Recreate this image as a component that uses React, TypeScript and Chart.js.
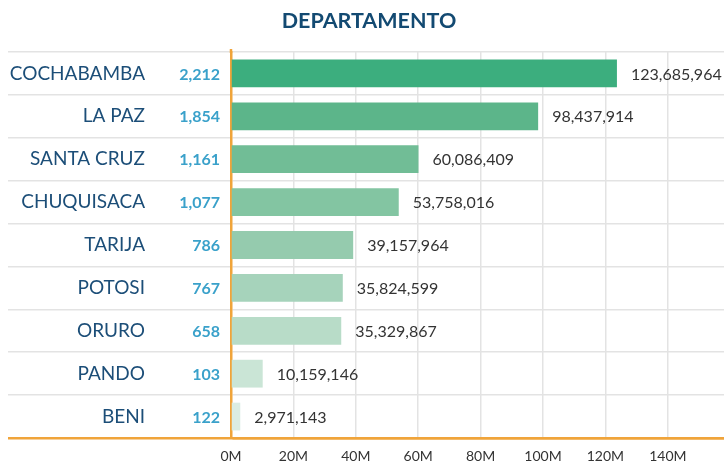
import React, { useEffect, useRef } from "react";
import { Chart, registerables } from "chart.js";

Chart.register(...registerables);

const categories = ["COCHABAMBA", "LA PAZ", "SANTA CRUZ", "CHUQUISACA", "TARIJA", "POTOSI", "ORURO", "PANDO", "BENI"];
const counts = [2212, 1854, 1161, 1077, 786, 767, 658, 103, 122];
const amounts = [123685964, 98437914, 60086409, 53758016, 39157964, 35824599, 35329867, 10159146, 2971143];
const barColors = ["#3cae7e", "#5cb58a", "#71bd96", "#83c5a2", "#95cbae", "#a6d3bb", "#b8dcc8", "#cae5d6", "#dbede3"];
const tickValues = [0, 20000000, 40000000, 60000000, 80000000, 100000000, 120000000, 140000000];
const tickLabels = ["0M", "20M", "40M", "60M", "80M", "100M", "120M", "140M"];
const axisMax = 158000000;
const titleText = "DEPARTAMENTO";

const ORANGE = "#f0a43a";
const GRID = "#e3e3e3";
const FONT = "Lato, 'Open Sans', sans-serif";

const labelsPlugin = {
  id: "sideLabels",
  afterDatasetsDraw(chart: any) {
    const { ctx, scales, chartArea } = chart;
    const x = scales.x;
    const y = scales.y;
    ctx.save();
    // small extension of the zero line above the plot
    ctx.strokeStyle = ORANGE;
    ctx.lineWidth = 2.5;
    ctx.beginPath();
    const zx = x.getPixelForValue(0);
    ctx.moveTo(zx, chartArea.top - 3);
    ctx.lineTo(zx, chartArea.top + 1);
    ctx.stroke();

    ctx.textBaseline = "middle";
    ctx.textAlign = "center";
    ctx.font = `bold 21.5px ${FONT}`;
    ctx.fillStyle = "#134a72";
    ctx.fillText(titleText, chart.width / 2 + 7, 21);
    categories.forEach((c, i) => {
      const py = y.getPixelForValue(i);
      ctx.textAlign = "right";
      ctx.font = `19px ${FONT}`;
      ctx.fillStyle = "#1c4e78";
      ctx.fillText(c, chartArea.left - 86, py);
      ctx.font = `bold 16px ${FONT}`;
      ctx.fillStyle = "#3aa1ca";
      ctx.fillText(counts[i].toLocaleString("en-US"), chartArea.left - 11, py + 1);
      ctx.textAlign = "left";
      ctx.font = `16px ${FONT}`;
      ctx.fillStyle = "#333333";
      ctx.fillText(amounts[i].toLocaleString("en-US"), x.getPixelForValue(amounts[i]) + 14, py + 1);
    });
    ctx.restore();
  },
};

export default function App() {
  const ref = useRef<HTMLCanvasElement>(null);
  useEffect(() => {
    document.body.style.margin = "0";
    const chart = new Chart(ref.current as HTMLCanvasElement, {
      type: "bar",
      data: {
        labels: categories,
        datasets: [
          {
            data: amounts,
            backgroundColor: barColors,
            barPercentage: 0.72,
            categoryPercentage: 0.9,
          },
        ],
      },
      options: {
        indexAxis: "y",
        animation: false,
        responsive: false,
        layout: { padding: { top: 52, left: 0, right: 0, bottom: 0 } },
        plugins: {
          legend: { display: false },
          tooltip: { enabled: false },
          title: { display: false },
        },
        scales: {
          x: {
            type: "linear",
            min: 0,
            max: axisMax,
            afterBuildTicks: (s: any) => {
              s.ticks = tickValues.map((v) => ({ value: v }));
            },
            afterFit: (s: any) => {
              s.height = 27;
            },
            ticks: {
              color: "#333333",
              font: { family: FONT, size: 14 },
              padding: 10,
              maxRotation: 0,
              autoSkip: false,
              callback: (_v: any, i: number) => tickLabels[i],
            },
            grid: {
              drawTicks: false,
              color: (c: any) => (c.tick && c.tick.value === 0 ? "rgba(0,0,0,0)" : GRID),
              lineWidth: 1.5,
            },
            border: { display: true, color: ORANGE, width: 2.5 },
          },
          y: {
            afterFit: (s: any) => {
              s.width = 231;
            },
            ticks: { display: false },
            grid: {
              offset: true,
              tickLength: 223,
              color: (c: any) => (c.type === "tick" ? GRID : ORANGE),
              lineWidth: (c: any) => (c.type === "tick" ? 1.5 : 2.5),
            },
            border: { display: true, color: ORANGE, width: 2.5 },
          },
        },
      },
      plugins: [labelsPlugin],
    });
    return () => chart.destroy();
  }, []);
  return <canvas ref={ref} width={724} height={465} style={{ display: "block" }} />;
}
